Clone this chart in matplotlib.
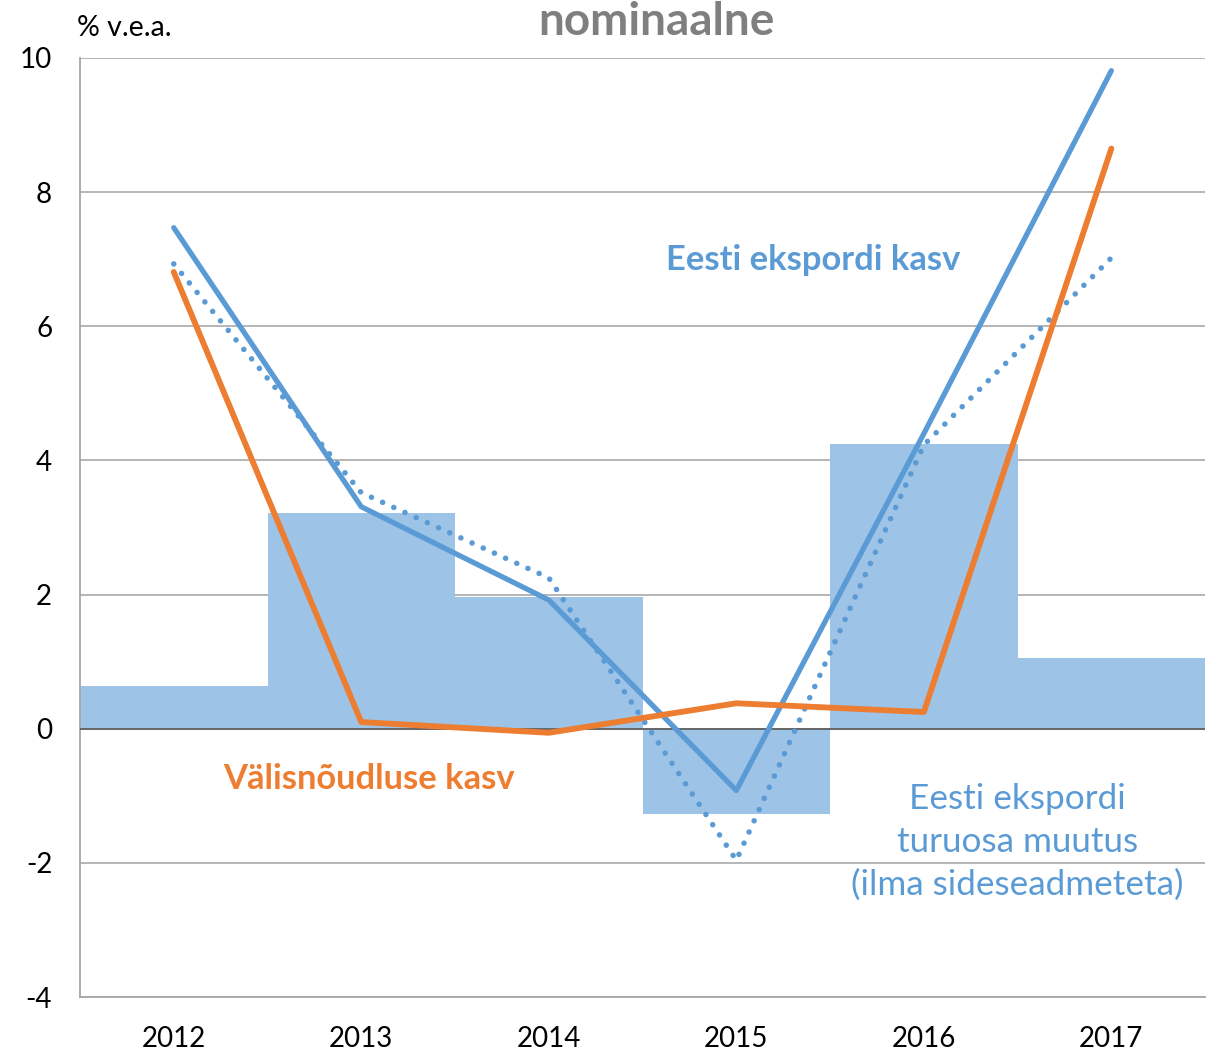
import matplotlib.pyplot as plt
import numpy as np

# andmed (loetud jooniselt)
years = ['2012', '2013', '2014', '2015', '2016', '2017']
turuosa = [0.64, 3.22, 1.97, -1.27, 4.25, 1.06]          # tulbad
eksport = [7.47, 3.31, 1.92, -0.92, 4.40, 9.81]          # pidev sinine joon
eksport_ilma = [6.93, 3.52, 2.25, -1.96, 4.23, 7.02]     # punktiirjoon
noudlus = [6.81, 0.10, -0.06, 0.38, 0.25, 8.65]          # oranž joon

plt.rcParams['font.family'] = ['Lato', 'DejaVu Sans']
plt.rcParams['axes.unicode_minus'] = False

fig = plt.figure(figsize=(12.21, 10.54), dpi=100)
ax = fig.add_axes([0.0655, 0.054, 0.9215, 0.891])

x = np.arange(len(years))
ax.bar(x, turuosa, width=1.0, color='#9dc3e6', zorder=2)
ax.axhline(0, color='#595959', lw=1.2, zorder=3)

ax.plot(x, eksport, color='#5b9bd5', lw=3.8, solid_capstyle='round', zorder=5)
ax.plot(x, eksport_ilma, color='#5b9bd5', lw=4.0, linestyle=(0, (0.01, 2.2)),
        dash_capstyle='round', zorder=4)
ax.plot(x, noudlus, color='#ed7d31', lw=4.2, solid_capstyle='round', zorder=6)

ax.set_xlim(-0.5, 5.5)
ax.set_ylim(-4, 10)
ax.set_yticks(range(-4, 11, 2))
ax.set_xticks(x)
ax.set_xticklabels(years)
ax.grid(axis='y', color='#b0b0b0', lw=1.3, zorder=0)
ax.tick_params(length=0, labelsize=20)
ax.tick_params(axis='y', pad=20)
ax.tick_params(axis='x', pad=21)
for s in ['top', 'right']:
    ax.spines[s].set_visible(False)
for s in ['left', 'bottom']:
    ax.spines[s].set_color('#a6a6a6')
    ax.spines[s].set_linewidth(1.3)

fig.text(0.063, 0.973, '% v.e.a.', fontsize=20.5, ha='left', va='center')
fig.text(0.538, 0.979, 'nominaalne', fontsize=33, fontweight='bold',
         color='#7f7f7f', ha='center', va='center')

ax.text(3.41, 6.99, 'Eesti ekspordi kasv', fontsize=24.8, fontweight='bold',
        color='#5b9bd5', ha='center', va='center', zorder=7)
ax.text(1.04, -0.75, 'Välisnõudluse kasv', fontsize=24.8, fontweight='bold',
        color='#ed7d31', ha='center', va='center', zorder=7)
ax.text(4.5, -1.69, 'Eesti ekspordi\nturuosa muutus\n(ilma sideseadmeteta)',
        fontsize=25.3, color='#5b9bd5', ha='center', va='center',
        linespacing=1.42, zorder=7)

plt.savefig('out.png', dpi=100)
